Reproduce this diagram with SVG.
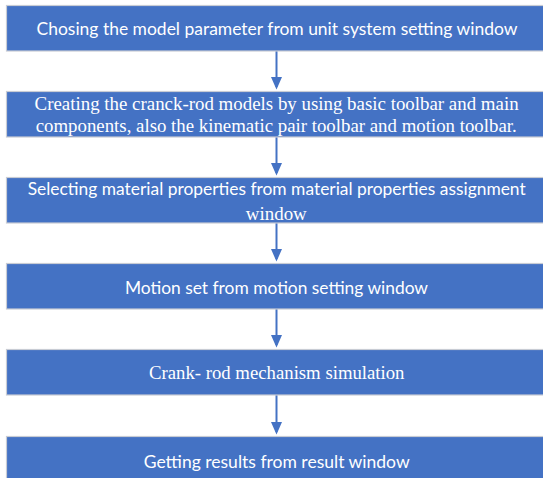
<svg xmlns="http://www.w3.org/2000/svg" width="543" height="478" viewBox="0 0 543 478">
<defs>
<style>
.box{fill:#4472C4;stroke:#c8ccd4;stroke-width:1.2}
.sans{font-family:Lato,"Open Sans","Liberation Sans",sans-serif;font-size:18px;fill:#ffffff}
.serif{font-family:"Liberation Serif","DejaVu Serif",serif;font-size:18.5px;fill:#ffffff}
.conn{stroke:#4472C4;stroke-width:2;fill:none}
</style>
<marker id="ah" markerUnits="userSpaceOnUse" markerWidth="13" markerHeight="12" refX="10.5" refY="5.75" orient="auto">
<path d="M0,0 L13,5.75 L0,11.5 z" fill="#4472C4"/>
</marker>
</defs>
<rect width="543" height="478" fill="#ffffff"/>
<g id="connectors">
<line class="conn" x1="276.5" y1="51" x2="276.5" y2="87" marker-end="url(#ah)"/>
<line class="conn" x1="276.5" y1="137" x2="276.5" y2="173" marker-end="url(#ah)"/>
<line class="conn" x1="276.5" y1="223" x2="276.5" y2="259" marker-end="url(#ah)"/>
<line class="conn" x1="276.5" y1="309" x2="276.5" y2="345" marker-end="url(#ah)"/>
<line class="conn" x1="276.5" y1="395" x2="276.5" y2="432" marker-end="url(#ah)"/>
</g>
<g id="n1">
<rect class="box" x="6.5" y="5.5" width="560" height="45.5"/>
<text class="sans" x="36.5" y="34.5" textLength="481" lengthAdjust="spacingAndGlyphs">Chosing the model parameter from unit system setting window</text>
</g>
<g id="n2">
<rect class="box" x="6.5" y="91.5" width="560" height="45.5"/>
<text class="serif" x="34.6" y="109.5" textLength="484" lengthAdjust="spacingAndGlyphs">Creating the cranck-rod models by using basic toolbar and main</text>
<text class="serif" x="35.7" y="132" textLength="481" lengthAdjust="spacingAndGlyphs">components, also the kinematic pair toolbar and motion toolbar.</text>
</g>
<g id="n3">
<rect class="box" x="6.5" y="177.5" width="560" height="45.5"/>
<text class="sans" x="27.7" y="194.5" textLength="498" lengthAdjust="spacingAndGlyphs">Selecting material properties from material properties assignment</text>
<text class="serif" x="245.8" y="220" textLength="61" lengthAdjust="spacingAndGlyphs">window</text>
</g>
<g id="n4">
<rect class="box" x="6.5" y="263.5" width="560" height="45.5"/>
<text class="sans" x="125" y="294" textLength="303" lengthAdjust="spacingAndGlyphs">Motion set from motion setting window</text>
</g>
<g id="n5">
<rect class="box" x="6.5" y="349.5" width="560" height="45.5"/>
<text class="serif" x="149" y="379" textLength="255.5" lengthAdjust="spacingAndGlyphs">Crank- rod mechanism simulation</text>
</g>
<g id="n6">
<rect class="box" x="6.5" y="436.5" width="560" height="60"/>
<text class="sans" x="143.7" y="467.5" textLength="266" lengthAdjust="spacingAndGlyphs">Getting results from result window</text>
</g>
</svg>
